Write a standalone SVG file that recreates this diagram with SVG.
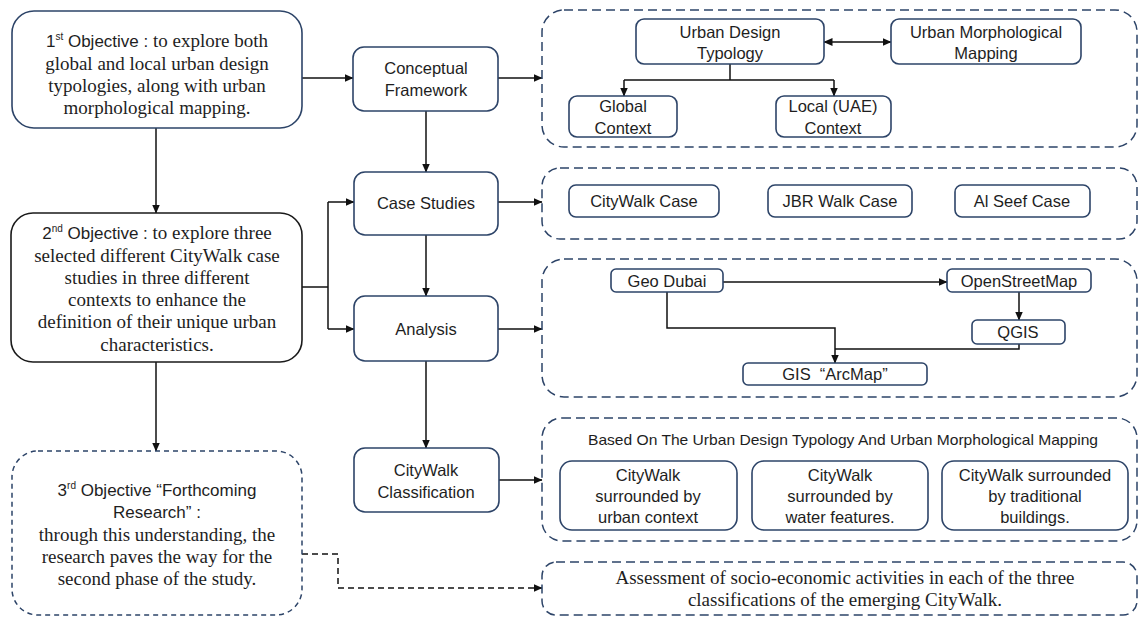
<svg xmlns="http://www.w3.org/2000/svg" width="1139" height="618" viewBox="0 0 1139 618">
<defs>
<style>
.bg{fill:#ffffff}
.box{fill:#ffffff;stroke:#2d4468;stroke-width:1.6}
.boxk{fill:#ffffff;stroke:#1a1a1a;stroke-width:1.6}
.cont{fill:none;stroke:#2d4468;stroke-width:1.5;stroke-dasharray:9 5}
.dbox{fill:#ffffff;stroke:#2d4468;stroke-width:1.5;stroke-dasharray:5 4}
.ln{fill:none;stroke:#111111;stroke-width:1.5}
.dln{fill:none;stroke:#111111;stroke-width:1.5;stroke-dasharray:6 4}
.sans{font-family:"Liberation Sans",Arial,sans-serif;font-size:16.5px;fill:#1e1e1e}
.serif{font-family:"Liberation Serif","Times New Roman",serif;font-size:19px;fill:#1e1e1e}
.s{font-family:"Liberation Sans",Arial,sans-serif;font-size:17px}
.sup{font-size:10px}
text{text-anchor:middle}
</style>
<marker id="ah" markerWidth="9" markerHeight="8" refX="8.5" refY="4" orient="auto" markerUnits="userSpaceOnUse">
<path d="M0,0 L9,4 L0,8 Z" fill="#111111"/>
</marker>
<marker id="ahs" markerWidth="9" markerHeight="8" refX="0.5" refY="4" orient="auto" markerUnits="userSpaceOnUse">
<path d="M9,0 L0,4 L9,8 Z" fill="#111111"/>
</marker>
</defs>
<rect class="bg" x="0" y="0" width="1139" height="618"/>

<g id="connectors">
<path class="ln" d="M302,78 H353" marker-end="url(#ah)"/>
<path class="ln" d="M156,128 V213" marker-end="url(#ah)"/>
<path class="ln" d="M302,287 H328"/>
<path class="ln" d="M328,202 V329"/>
<path class="ln" d="M328,202 H354" marker-end="url(#ah)"/>
<path class="ln" d="M328,329 H354" marker-end="url(#ah)"/>
<path class="ln" d="M156,362 V451" marker-end="url(#ah)"/>
<path class="ln" d="M426,111 V172" marker-end="url(#ah)"/>
<path class="ln" d="M426,235 V296" marker-end="url(#ah)"/>
<path class="ln" d="M426,361 V448" marker-end="url(#ah)"/>
<path class="ln" d="M498,78 H542" marker-end="url(#ah)"/>
<path class="ln" d="M498,202 H542" marker-end="url(#ah)"/>
<path class="ln" d="M498,329 H542" marker-end="url(#ah)"/>
<path class="ln" d="M499,480 H542" marker-end="url(#ah)"/>
<path class="dln" d="M302,554 H338 V588 H542" marker-end="url(#ah)"/>
<path class="ln" d="M824,42 H891" marker-start="url(#ahs)" marker-end="url(#ah)"/>
<path class="ln" d="M730,64 V80 M624,80 H834"/>
<path class="ln" d="M624,80 V96" marker-end="url(#ah)"/>
<path class="ln" d="M834,80 V96" marker-end="url(#ah)"/>
<path class="ln" d="M723,282 H947" marker-end="url(#ah)"/>
<path class="ln" d="M1019,292 V320" marker-end="url(#ah)"/>
<path class="ln" d="M667,292 V328 H835 V363" marker-end="url(#ah)"/>
<path class="ln" d="M1019,344 V349 H835"/>
</g>

<g id="obj1">
<rect class="box" x="12" y="11" width="290" height="117" rx="22"/>
<text class="serif" x="157" y="47"><tspan class="s">1</tspan><tspan class="s sup" dy="-7">st</tspan><tspan class="s" dy="7"> Objective : </tspan>to explore both</text>
<text class="serif" x="157" y="70">global and local urban design</text>
<text class="serif" x="157" y="92">typologies, along with urban</text>
<text class="serif" x="157" y="114">morphological mapping.</text>
</g>

<g id="obj2">
<rect class="boxk" x="11" y="213" width="291" height="149" rx="22"/>
<text class="serif" x="157" y="239"><tspan class="s">2</tspan><tspan class="s sup" dy="-7">nd</tspan><tspan class="s" dy="7"> Objective : </tspan>to explore three</text>
<text class="serif" x="157" y="262">selected different CityWalk case</text>
<text class="serif" x="157" y="284">studies in three different</text>
<text class="serif" x="157" y="306">contexts to enhance the</text>
<text class="serif" x="157" y="328">definition of their unique urban</text>
<text class="serif" x="157" y="351">characteristics.</text>
</g>

<g id="obj3">
<rect class="dbox" x="12" y="451" width="290" height="164" rx="26"/>
<text class="sans" x="157" y="496" style="font-size:17px">3<tspan class="sup" dy="-7">rd</tspan><tspan dy="7"> Objective “Forthcoming</tspan></text>
<text class="sans" x="157" y="518" style="font-size:17px">Research” :</text>
<text class="serif" x="157" y="541">through this understanding, the</text>
<text class="serif" x="157" y="563">research paves the way for the</text>
<text class="serif" x="157" y="585">second phase of the study.</text>
</g>

<g id="conceptual">
<rect class="box" x="353" y="47" width="145" height="64" rx="11"/>
<text class="sans" x="426" y="74">Conceptual</text>
<text class="sans" x="426" y="96">Framework</text>
</g>
<g id="case-studies">
<rect class="box" x="354" y="172" width="144" height="63" rx="11"/>
<text class="sans" x="426" y="209">Case Studies</text>
</g>
<g id="analysis">
<rect class="box" x="354" y="296" width="144" height="65" rx="11"/>
<text class="sans" x="426" y="335">Analysis</text>
</g>
<g id="classification">
<rect class="box" x="354" y="448" width="145" height="64" rx="11"/>
<text class="sans" x="426" y="476">CityWalk</text>
<text class="sans" x="426" y="498">Classification</text>
</g>

<g id="framework-group">
<rect class="cont" x="542" y="10" width="595" height="137" rx="22"/>
</g>
<g id="urban-design-typology">
<rect class="box" x="636" y="19" width="188" height="45" rx="8"/>
<text class="sans" x="730" y="38">Urban Design</text>
<text class="sans" x="730" y="59">Typology</text>
</g>
<g id="urban-morph">
<rect class="box" x="891" y="19" width="190" height="45" rx="8"/>
<text class="sans" x="986" y="38">Urban Morphological</text>
<text class="sans" x="986" y="59">Mapping</text>
</g>
<g id="global-context">
<rect class="box" x="569" y="96" width="108" height="41" rx="8"/>
<text class="sans" x="623" y="112">Global</text>
<text class="sans" x="623" y="134">Context</text>
</g>
<g id="local-context">
<rect class="box" x="776" y="96" width="115" height="41" rx="8"/>
<text class="sans" x="833" y="112">Local (UAE)</text>
<text class="sans" x="833" y="134">Context</text>
</g>

<g id="cases-group">
<rect class="cont" x="542" y="168" width="595" height="71" rx="18"/>
</g>
<g id="citywalk-case">
<rect class="box" x="569" y="185" width="150" height="32" rx="7"/>
<text class="sans" x="644" y="207">CityWalk Case</text>
</g>
<g id="jbr-case">
<rect class="box" x="768" y="185" width="144" height="32" rx="7"/>
<text class="sans" x="840" y="207">JBR Walk Case</text>
</g>
<g id="alseef-case">
<rect class="box" x="955" y="185" width="135" height="32" rx="7"/>
<text class="sans" x="1022" y="207">Al Seef Case</text>
</g>

<g id="analysis-group">
<rect class="cont" x="542" y="259" width="595" height="138" rx="22"/>
</g>
<g id="geo-dubai">
<rect class="box" x="611" y="269" width="112" height="23" rx="5"/>
<text class="sans" x="667" y="287">Geo Dubai</text>
</g>
<g id="osm">
<rect class="box" x="947" y="269" width="144" height="23" rx="5"/>
<text class="sans" x="1019" y="287">OpenStreetMap</text>
</g>
<g id="qgis">
<rect class="box" x="972" y="320" width="93" height="24" rx="5"/>
<text class="sans" x="1018" y="338">QGIS</text>
</g>
<g id="arcmap">
<rect class="box" x="743" y="363" width="184" height="22" rx="5"/>
<text class="sans" x="835" y="380" xml:space="preserve">GIS  “ArcMap”</text>
</g>

<g id="classification-group">
<rect class="cont" x="542" y="418" width="595" height="123" rx="20"/>
<text class="sans" x="843" y="445" style="font-size:15px" textLength="510" lengthAdjust="spacingAndGlyphs">Based On The Urban Design Typology And Urban Morphological Mapping</text>
</g>
<g id="class-urban">
<rect class="box" x="560" y="461" width="177" height="69" rx="12"/>
<text class="sans" x="648" y="481">CityWalk</text>
<text class="sans" x="648" y="502">surrounded by</text>
<text class="sans" x="648" y="523">urban context</text>
</g>
<g id="class-water">
<rect class="box" x="752" y="461" width="176" height="69" rx="12"/>
<text class="sans" x="840" y="481">CityWalk</text>
<text class="sans" x="840" y="502">surrounded by</text>
<text class="sans" x="840" y="523">water features.</text>
</g>
<g id="class-traditional">
<rect class="box" x="942" y="461" width="186" height="69" rx="12"/>
<text class="sans" x="1035" y="481">CityWalk surrounded</text>
<text class="sans" x="1035" y="502">by traditional</text>
<text class="sans" x="1035" y="523">buildings.</text>
</g>

<g id="assessment">
<rect class="cont" x="542" y="562" width="595" height="53" rx="14"/>
<text class="serif" x="845" y="584" style="font-size:19px">Assessment of socio-economic activities in each of the three</text>
<text class="serif" x="845" y="606" style="font-size:19px">classifications of the emerging CityWalk.</text>
</g>
</svg>
